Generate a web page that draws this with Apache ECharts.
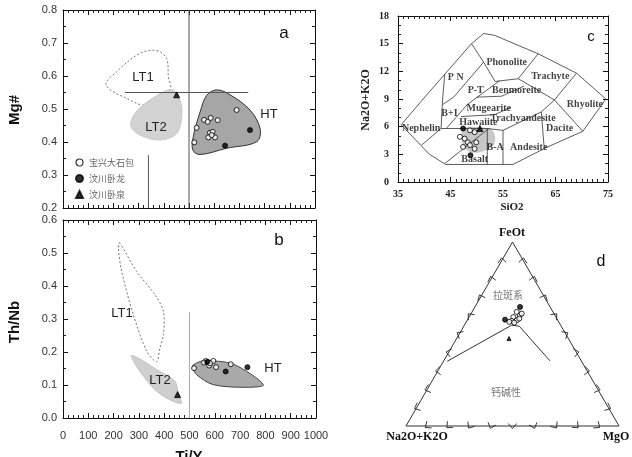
<!DOCTYPE html>
<html>
<head>
<meta charset="utf-8">
<script src="https://cdn.jsdelivr.net/npm/echarts@6/dist/echarts.min.js"></script>
<style>
  html, body { margin: 0; background: #fff; }
  #main { width: 632px; height: 457px; }
</style>
</head>
<body>
<div id="main"></div>
<script>
// sample groups (legend)
var groupNames = ['宝兴大石包', '汶川卧龙', '汶川卧泉'];

// ---- panel a : Ti/Y vs Mg# ----
var aLT1 = [[372,0.677],[411,0.653],[418,0.598],[425,0.558],[332,0.512],[253,0.532],[171,0.573],[213,0.613],[306,0.669]];
var aLT2 = [[431,0.559],[464,0.527],[471,0.477],[451,0.426],[385,0.406],[306,0.421],[269,0.449],[286,0.487],[345,0.527]];
var aHT = [[610,0.558],[663,0.543],[742,0.497],[782,0.441],[769,0.401],[649,0.381],[544,0.362],[515,0.376],[517,0.416],[544,0.491],[570,0.541]];
var aOpen = [[530,0.443],[521,0.399],[560,0.467],[574,0.461],[586,0.473],[614,0.466],[689,0.497],[583,0.428],[594,0.431],[577,0.414],[603,0.414],[590,0.421]];
var aFilled = [[643,0.389],[742,0.436]];
var aTri = [[451,0.543]];
var aRefLines = [
  [[500,0.2],[500,0.8]],
  [[339,0.2],[339,0.36]],
  [[246,0.55],[735,0.55]]
];

// ---- panel b : Ti/Y vs Th/Nb ----
var bLT1 = [[223,0.531],[291,0.444],[364,0.373],[397,0.323],[397,0.252],[383,0.212],[370,0.171],[331,0.202],[278,0.313],[232,0.444],[219,0.514]];
var bLT2 = [[271,0.190],[383,0.141],[443,0.111],[456,0.071],[469,0.045],[436,0.050],[370,0.081],[304,0.141]];
var bHT = [[515,0.161],[555,0.173],[673,0.163],[792,0.101],[727,0.093],[594,0.101],[528,0.131],[513,0.151]];
var bOpen = [[518,0.151],[564,0.173],[575,0.169],[594,0.173],[578,0.159],[605,0.154],[663,0.163],[557,0.168],[581,0.166]];
var bFilled = [[643,0.141],[729,0.154],[570,0.170]];
var bTri = [[453,0.071]];
var bRefLines = [[[500,0],[500,0.32]]];

// ---- panel c : TAS (SiO2 vs Na2O+K2O) ----
var tasLines = [
  [[35.6,6.2],[40.4,9.4],[49.0,15.0],[51.3,16.1],[53.4,15.9],[61.7,13.9],[69.0,11.8],[74.6,9.0],[70.2,5.5],[63.1,3.7],[56.9,1.9],[44.1,1.9],[41.0,3.0],[35.6,6.2]],
  [[49.0,15.0],[51.3,13.0],[53.5,10.9],[57.9,11.2],[61.7,13.9]],
  [[57.9,11.2],[64.8,8.9],[69.0,11.8]],
  [[64.8,8.9],[70.2,5.5]],
  [[64.8,8.9],[62.3,7.6],[62.8,4.0],[63.1,3.7]],
  [[43.9,11.7],[43.5,9.0],[43.2,5.8],[39.5,4.0]],
  [[51.3,13.0],[45.6,9.2],[43.5,8.4]],
  [[54.4,11.0],[48.2,8.4],[44.2,5.8]],
  [[50.0,9.2],[54.7,9.3],[59.0,10.4]],
  [[47.0,7.1],[53.4,7.3],[56.5,8.1]],
  [[43.2,5.8],[52.0,5.8],[55.0,5.6],[62.3,7.6]],
  [[52.0,5.8],[52.0,1.9]],
  [[55.0,5.6],[55.0,1.9]],
  [[52.3,5.8],[43.9,2.0]]
];
var cShade = [[47.5,5.8],[52.5,5.8],[53.5,5.0],[53.2,4.0],[51.5,3.4],[49.0,3.2],[47.4,3.9]];
var cOpen = [[48.7,5.6],[49.6,5.4],[46.8,4.9],[47.7,4.7],[48.3,4.3],[49.9,4.3],[47.4,3.8],[49.6,3.6],[48.7,4.0]];
var cFilled = [[47.4,5.8],[48.8,2.9]];
var cTri = [[50.6,5.8]];

// ---- panel d : AFM ternary [Na2O+K2O, FeOt, MgO] ----
var dTriangle = [[1,0,0],[0,1,0],[0,0,1],[1,0,0]];
var dBoundary = [[0.630,0.352,0.018],[0.230,0.548,0.222],[0.197,0.542,0.261],[0.147,0.354,0.499]];
var dOpen = [[0.170,0.620,0.210],[0.164,0.602,0.234],[0.151,0.611,0.238],[0.200,0.592,0.208],[0.218,0.571,0.211],[0.192,0.575,0.233],[0.176,0.584,0.240],[0.232,0.566,0.202],[0.211,0.562,0.227]];
var dFilled = [[0.141,0.647,0.212],[0.246,0.578,0.176]];
var dTri = [[0.279,0.475,0.246]];
var dTickFrac = [0.1,0.2,0.3,0.4,0.5,0.6,0.7,0.8,0.9];

function tern(p) {
  var s = p[0] + p[1] + p[2];
  var f = p[1] / s, m = p[2] / s;
  return [m + f / 2, f * Math.sqrt(3) / 2];
}

var sans = 'Liberation Sans, Arial, sans-serif';
var serif = 'Liberation Serif, Times New Roman, serif';
var cjk = 'Noto Sans CJK SC';

function polySeries(xi, yi, pts, style, smooth, z) {
  return {
    type: 'custom', xAxisIndex: xi, yAxisIndex: yi, silent: true, z: z || 1,
    data: [0],
    renderItem: function (params, api) {
      return {
        type: 'polygon',
        shape: { points: pts.map(function (p) { return api.coord(p); }), smooth: smooth },
        style: style
      };
    }
  };
}

function linesSeries(xi, yi, lines, style, z) {
  return {
    type: 'custom', xAxisIndex: xi, yAxisIndex: yi, silent: true, z: z || 2,
    data: [0],
    renderItem: function (params, api) {
      return {
        type: 'group',
        children: lines.map(function (l) {
          return { type: 'polyline', shape: { points: l.map(function (p) { return api.coord(p); }) }, style: style };
        })
      };
    }
  };
}

function pointSeries(xi, yi, name, data, kind) {
  var s = {
    type: 'scatter', name: name, xAxisIndex: xi, yAxisIndex: yi, data: data, z: 5,
    symbol: 'circle', symbolSize: 5,
    itemStyle: { color: '#000', borderColor: '#000', borderWidth: 1 }
  };
  if (kind === 'open') s.itemStyle.color = '#fff';
  if (kind === 'tri') { s.symbol = 'triangle'; s.symbolSize = 6; }
  return s;
}

function frameAxes(gridIdx, min, max, interval, minorSplit, pos, showLabel, labelStyle) {
  return {
    type: 'value', gridIndex: gridIdx, position: pos, min: min, max: max, interval: interval,
    axisLine: { show: true, onZero: false, lineStyle: { color: '#111', width: 1 } },
    axisTick: { show: true, inside: true, length: 5, lineStyle: { color: '#111' } },
    minorTick: { show: true, splitNumber: minorSplit, length: 3, lineStyle: { color: '#222' } },
    splitLine: { show: false },
    axisLabel: Object.assign({ show: showLabel }, labelStyle || {})
  };
}

var abLabel = { fontFamily: sans, fontSize: 11, color: '#333' };
var cLabel = { fontFamily: serif, fontSize: 10, fontWeight: 'bold', color: '#222' };

var myChart = echarts.init(document.getElementById('main'));

// chevron ticks on the triangle sides, pointing outward
var ternTicks = {
  type: 'custom', xAxisIndex: 6, yAxisIndex: 6, silent: true, data: [0], z: 3,
  renderItem: function (params, api) {
    var edges = [[[1,0,0],[0,0,1]], [[1,0,0],[0,1,0]], [[0,0,1],[0,1,0]]];
    var c = api.coord(tern([1,1,1]));
    var kids = [];
    edges.forEach(function (e) {
      dTickFrac.forEach(function (t) {
        var p = [0,1,2].map(function (k) { return e[0][k] * (1 - t) + e[1][k] * t; });
        var q = api.coord(tern(p));
        var a0 = Math.atan2(c[1] - q[1], c[0] - q[0]);
        var L = 6.5, d = 0.7, back = 2.5;
        var ax = q[0] - back * Math.cos(a0), ay = q[1] - back * Math.sin(a0);
        kids.push({
          type: 'polyline',
          shape: { points: [
            [ax + L * Math.cos(a0 + d), ay + L * Math.sin(a0 + d)],
            [ax, ay],
            [ax + L * Math.cos(a0 - d), ay + L * Math.sin(a0 - d)]
          ] },
          style: { stroke: '#222', fill: 'none', lineWidth: 0.9 }
        });
      });
    });
    return { type: 'group', children: kids };
  }
};

function txt(x, y, text, font, color, rot) {
  return {
    type: 'text', x: x, y: y, z: 100, rotation: rot || 0,
    style: { text: text, font: font, fill: color || '#111', align: 'center', verticalAlign: 'middle' }
  };
}

var option = {
  animation: false,
  backgroundColor: '#fff',
  grid: [
    { left: 63, top: 10, width: 252, height: 198 },
    { left: 63, top: 220, width: 253, height: 198 },
    { left: 398, top: 16, width: 210, height: 166 },
    { left: 406, top: 242, width: 213, height: 184 }
  ],
  xAxis: [
    frameAxes(0, 0, 1000, 100, 5, 'bottom', false),
    frameAxes(0, 0, 1000, 100, 5, 'top', false),
    frameAxes(1, 0, 1000, 100, 5, 'bottom', true, Object.assign({ margin: 12, formatter: function (v) { return String(v); } }, abLabel)),
    frameAxes(1, 0, 1000, 100, 5, 'top', false),
    frameAxes(2, 35, 75, 10, 10, 'bottom', true, Object.assign({ margin: 7 }, cLabel)),
    frameAxes(2, 35, 75, 10, 10, 'top', false),
    { type: 'value', gridIndex: 3, min: 0, max: 1, show: false }
  ],
  yAxis: [
    frameAxes(0, 0.2, 0.8, 0.1, 2, 'left', true, Object.assign({ margin: 6, formatter: function (v) { return v.toFixed(1); } }, abLabel)),
    frameAxes(0, 0.2, 0.8, 0.1, 2, 'right', false),
    frameAxes(1, 0, 0.6, 0.1, 2, 'left', true, Object.assign({ margin: 6, formatter: function (v) { return v.toFixed(1); } }, abLabel)),
    frameAxes(1, 0, 0.6, 0.1, 2, 'right', false),
    frameAxes(2, 0, 18, 3, 3, 'left', true, Object.assign({ margin: 9 }, cLabel)),
    frameAxes(2, 0, 18, 3, 3, 'right', false),
    { type: 'value', gridIndex: 3, min: 0, max: Math.sqrt(3) / 2, show: false }
  ],
  legend: {
    orient: 'vertical', left: 75, top: 158, padding: 0, itemGap: 7, itemWidth: 7, itemHeight: 7,
    textStyle: { fontFamily: cjk, fontSize: 9, color: '#666', padding: [0, 0, 0, 1] },
    data: [
      { name: groupNames[0], icon: 'circle', itemStyle: { color: '#fff', borderColor: '#000', borderWidth: 1.2 } },
      { name: groupNames[1], icon: 'circle', itemStyle: { color: '#000' } },
      { name: groupNames[2], icon: 'triangle', itemStyle: { color: '#000' } }
    ]
  },
  series: [
    // panel a
    polySeries(0, 0, aLT1, { fill: 'none', stroke: '#777', lineWidth: 1, lineDash: [2, 2] }, 0.35, 1),
    polySeries(0, 0, aLT2, { fill: '#d2d2d2', stroke: '#c8c8c8', lineWidth: 1 }, 0.35, 2),
    polySeries(0, 0, aHT, { fill: '#a6a6a6', stroke: '#333', lineWidth: 1 }, 0.35, 2),
    linesSeries(0, 0, aRefLines, { stroke: '#555', fill: 'none', lineWidth: 1 }, 3),
    pointSeries(0, 0, groupNames[0], aOpen, 'open'),
    pointSeries(0, 0, groupNames[1], aFilled, 'fill'),
    pointSeries(0, 0, groupNames[2], aTri, 'tri'),
    // panel b
    polySeries(2, 2, bLT1, { fill: 'none', stroke: '#777', lineWidth: 1, lineDash: [2, 2] }, 0.3, 1),
    polySeries(2, 2, bLT2, { fill: '#cfcfcf', stroke: '#c4c4c4', lineWidth: 1 }, 0.3, 2),
    polySeries(2, 2, bHT, { fill: '#a9a9a9', stroke: '#444', lineWidth: 1 }, 0.3, 2),
    linesSeries(2, 2, bRefLines, { stroke: '#aaa', fill: 'none', lineWidth: 1 }, 3),
    pointSeries(2, 2, groupNames[0], bOpen, 'open'),
    pointSeries(2, 2, groupNames[1], bFilled, 'fill'),
    pointSeries(2, 2, groupNames[2], bTri, 'tri'),
    // panel c
    polySeries(4, 4, cShade, { fill: '#c8c8c8', stroke: 'none' }, 0.3, 1),
    linesSeries(4, 4, tasLines, { stroke: '#333', fill: 'none', lineWidth: 0.8 }, 2),
    pointSeries(4, 4, groupNames[0], cOpen, 'open'),
    pointSeries(4, 4, groupNames[1], cFilled, 'fill'),
    pointSeries(4, 4, groupNames[2], cTri, 'tri'),
    {
      type: 'scatter', xAxisIndex: 4, yAxisIndex: 4, silent: true, symbolSize: 0, z: 4,
      label: {
        show: true, position: 'inside', formatter: function (p) { return p.data[2]; },
        fontFamily: serif, fontSize: 10, fontWeight: 'bold', color: '#111'
      },
      data: [
        [55.7, 13.0, 'Phonolite'], [46.0, 11.3, 'P N'], [64.0, 11.4, 'Trachyte'], [49.8, 9.9, 'P-T'],
        [57.6, 9.9, 'Benmoreite'], [70.6, 8.4, 'Rhyolite'], [44.8, 7.4, 'B+I'], [52.3, 8.0, 'Mugearite'],
        [50.3, 6.5, 'Hawaiite'], [58.8, 6.9, 'Trachyandesite'], [39.4, 5.8, 'Nephelin'], [65.8, 5.8, 'Dacite'],
        [53.5, 3.8, 'B-A'], [59.9, 3.8, 'Andesite'], [49.6, 2.4, 'Basalt']
      ]
    },
    // panel d
    linesSeries(6, 6, [dTriangle.map(tern)], { stroke: '#333', fill: 'none', lineWidth: 1 }, 2),
    linesSeries(6, 6, [dBoundary.map(tern)], { stroke: '#333', fill: 'none', lineWidth: 1 }, 2),
    ternTicks,
    pointSeries(6, 6, groupNames[0], dOpen.map(tern), 'open'),
    pointSeries(6, 6, groupNames[1], dFilled.map(tern), 'fill'),
    Object.assign(pointSeries(6, 6, groupNames[2], dTri.map(tern), 'tri'), { symbolSize: 4 })
  ],
  graphic: [
    txt(284, 33, 'a', '17px ' + sans),
    txt(143, 77, 'LT1', '13px ' + sans, '#222'),
    txt(156, 127, 'LT2', '13px ' + sans, '#222'),
    txt(269, 114, 'HT', '13px ' + sans, '#222'),
    txt(279, 240, 'b', '17px ' + sans),
    txt(122, 313, 'LT1', '13px ' + sans, '#222'),
    txt(160, 380, 'LT2', '13px ' + sans, '#222'),
    txt(273, 368, 'HT', '13px ' + sans, '#222'),
    txt(15, 110, 'Mg#', 'bold 15px ' + sans, '#111', Math.PI / 2),
    txt(15, 322, 'Th/Nb', 'bold 15px ' + sans, '#111', Math.PI / 2),
    txt(189, 457, 'Ti/Y', 'bold 15px ' + sans),
    txt(591, 37, 'c', '15px ' + sans),
    txt(512, 207, 'SiO2', 'bold 11px ' + serif, '#222'),
    txt(366, 100, 'Na2O+K2O', 'bold 12px ' + serif, '#222', Math.PI / 2),
    txt(512, 233, 'FeOt', 'bold 12px ' + serif),
    txt(417, 437, 'Na2O+K2O', 'bold 12px ' + serif),
    txt(616, 437, 'MgO', 'bold 12px ' + serif),
    txt(601, 262, 'd', '16px ' + sans),
    txt(508, 295, '拉斑系', '10px ' + cjk, '#777'),
    txt(506, 392, '钙碱性', '10px ' + cjk, '#777')
  ]
};

myChart.setOption(option);
</script>
</body>
</html>
